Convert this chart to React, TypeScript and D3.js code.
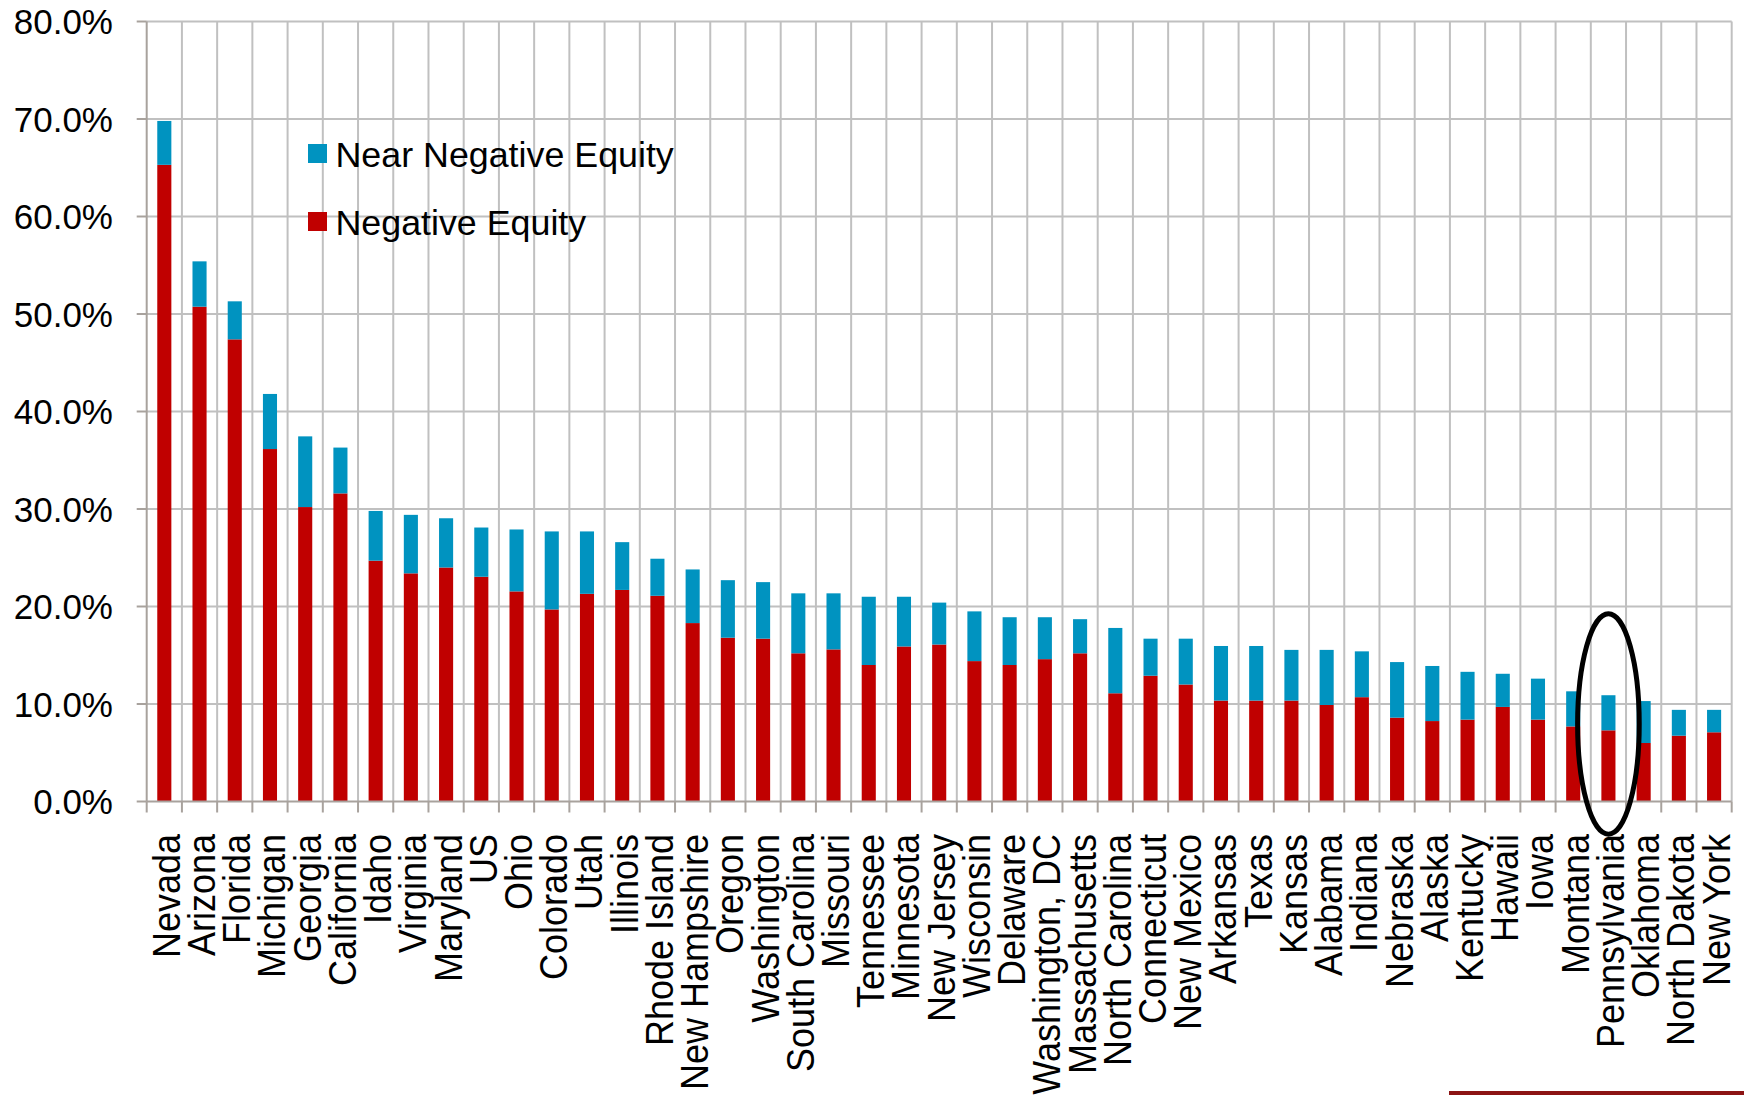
import React from "react";
import * as d3 from "d3";

// States ranked by share of mortgaged homes under water
const states = [
  "Nevada", "Arizona", "Florida", "Michigan", "Georgia", "California", "Idaho",
  "Virginia", "Maryland", "US", "Ohio", "Colorado", "Utah", "Illinois",
  "Rhode Island", "New Hampshire", "Oregon", "Washington", "South Carolina",
  "Missouri", "Tennessee", "Minnesota", "New Jersey", "Wisconsin", "Delaware",
  "Washington, DC", "Massachusetts", "North Carolina", "Connecticut",
  "New Mexico", "Arkansas", "Texas", "Kansas", "Alabama", "Indiana", "Nebraska",
  "Alaska", "Kentucky", "Hawaii", "Iowa", "Montana", "Pennsylvania", "Oklahoma",
  "North Dakota", "New York",
];

// Negative equity share (%)
const negativeEquity = [
  65.3, 50.75, 47.4, 36.15, 30.2, 31.6, 24.7, 23.4, 24.0, 23.05, 21.55, 19.7,
  21.3, 21.7, 21.1, 18.3, 16.8, 16.7, 15.2, 15.6, 14.0, 15.9, 16.1, 14.4, 14.0,
  14.6, 15.2, 11.1, 12.9, 12.0, 10.35, 10.35, 10.35, 9.9, 10.7, 8.6, 8.25, 8.4,
  9.7, 8.4, 7.7, 7.3, 6.0, 6.75, 7.1,
];

// Near negative equity share (%), stacked above negative equity
const nearNegativeEquity = [
  4.5, 4.65, 3.9, 5.65, 7.25, 4.7, 5.1, 6.0, 5.05, 5.05, 6.35, 8.0, 6.4, 4.9,
  3.8, 5.5, 5.9, 5.8, 6.15, 5.75, 7.0, 5.1, 4.3, 5.1, 4.9, 4.3, 3.5, 6.7, 3.8,
  4.7, 5.6, 5.6, 5.2, 5.65, 4.7, 5.7, 5.65, 4.9, 3.4, 4.2, 3.6, 3.6, 4.3, 2.65,
  2.3,
];

const yTicks = [0, 10, 20, 30, 40, 50, 60, 70, 80];

const seriesKeys = ["negative", "near"];
const seriesLabels: Record<string, string> = {
  near: "Near Negative Equity",
  negative: "Negative Equity",
};
const seriesColors: Record<string, string> = {
  negative: "#C00000",
  near: "#0093C0",
};

// Highlighted state and the vertical span of its ring (in % units)
const highlightState = "Pennsylvania";
const highlightCenter = 7.95;
const highlightHalfSpan = 11.3;

const W = 1744;
const H = 1099;
const plotLeft = 146.7;
const plotRight = 1731.7;
const plotTop = 21.5;
const plotBottom = 801.5;

const FONT = "'Liberation Sans', Arial, Helvetica, sans-serif";
const GRID = "#C0C0C0";
const AXIS = "#A8A29D";

export default function App() {
  const x = d3.scaleBand<string>().domain(states).range([plotLeft, plotRight]).padding(0);
  const y = d3.scaleLinear().domain([0, 80]).range([plotBottom, plotTop]);
  const step = x.step();
  const barW = step * 0.4;

  const rows = states.map((s, i) => ({
    state: s,
    negative: negativeEquity[i],
    near: nearNegativeEquity[i],
  }));
  const stacked = d3.stack<any>().keys(seriesKeys)(rows);

  const boundaries = d3.range(states.length + 1).map((i) => plotLeft + i * step);
  const fmt = (v: number) => d3.format(".1f")(v) + "%";

  const hx = (x(highlightState) as number) + step / 2;
  const hcy = y(highlightCenter);
  const hry = y(highlightCenter - highlightHalfSpan) - hcy;

  return (
    <svg
      width={W}
      height={H}
      viewBox={`0 0 ${W} ${H}`}
      style={{ position: "absolute", left: 0, top: 0, background: "#fff" }}
      fontFamily={FONT}
    >
      {/* horizontal grid */}
      {yTicks.filter((t) => t > 0).map((t) => (
        <line key={"hg" + t} x1={plotLeft} x2={plotRight} y1={y(t)} y2={y(t)} stroke={GRID} strokeWidth={2} />
      ))}
      {/* vertical grid at category boundaries */}
      {boundaries.slice(1).map((bx, i) => (
        <line key={"vg" + i} x1={bx} x2={bx} y1={plotTop} y2={plotBottom} stroke={GRID} strokeWidth={2} />
      ))}

      {/* stacked bars */}
      {stacked.map((layer) => (
        <g key={layer.key} fill={seriesColors[layer.key]}>
          {layer.map((d, i) => (
            <rect
              key={i}
              x={(x(states[i]) as number) + step / 2 - barW / 2}
              y={y(d[1])}
              width={barW}
              height={y(d[0]) - y(d[1])}
            />
          ))}
        </g>
      ))}

      {/* axes */}
      <line x1={plotLeft} x2={plotLeft} y1={plotTop} y2={plotBottom} stroke={AXIS} strokeWidth={2} />
      <line x1={plotLeft} x2={plotRight} y1={plotBottom} y2={plotBottom} stroke={AXIS} strokeWidth={2} />
      {yTicks.map((t) => (
        <g key={"yt" + t}>
          <line x1={plotLeft - 10} x2={plotLeft} y1={y(t)} y2={y(t)} stroke={AXIS} strokeWidth={2} />
          <text x={113} y={y(t)} dy="0.36em" textAnchor="end" fontSize={35} fill="#000">
            {fmt(t)}
          </text>
        </g>
      ))}
      {boundaries.map((bx, i) => (
        <line key={"xt" + i} x1={bx} x2={bx} y1={plotBottom} y2={plotBottom + 11} stroke={AXIS} strokeWidth={2} />
      ))}

      {/* category labels */}
      {states.map((s) => {
        const cx = (x(s) as number) + step / 2;
        return (
          <text
            key={"xl" + s}
            transform={`translate(${cx + 15.5},834) rotate(-90) scale(1,1.1)`}
            textAnchor="end"
            fontSize={36}
            fill="#000"
          >
            {s}
          </text>
        );
      })}

      {/* legend */}
      {["near", "negative"].map((k, i) => (
        <g key={"lg" + k} transform={`translate(308, ${144 + i * 68})`}>
          <rect x={0} y={0} width={19} height={19} fill={seriesColors[k]} />
          <text x={27.5} y={23} fontSize={35.8} fill="#000">
            {seriesLabels[k]}
          </text>
        </g>
      ))}

      {/* highlight ring */}
      <ellipse cx={hx} cy={hcy} rx={step * 0.875} ry={hry} fill="none" stroke="#000" strokeWidth={5} />

      {/* footer rule */}
      <line x1={1449} x2={W} y1={1093} y2={1093} stroke="#8C1414" strokeWidth={4} />
    </svg>
  );
}
